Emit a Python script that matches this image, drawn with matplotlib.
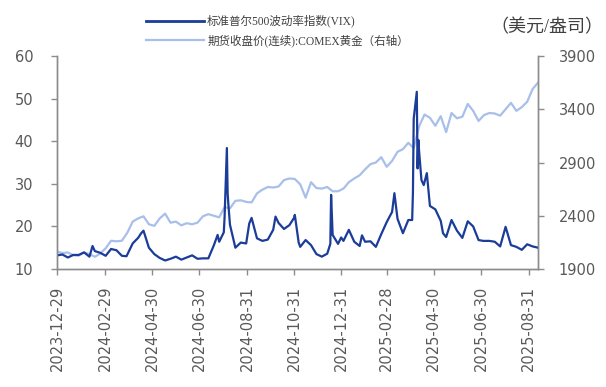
import matplotlib
matplotlib.use("Agg")
import matplotlib.pyplot as plt
import matplotlib.dates as mdates
from matplotlib.lines import Line2D
import pandas as pd

plt.rcParams['font.family'] = ['DejaVu Sans', 'Noto Sans CJK SC']

# VIX daily closes (sampled, denser around the spikes)
vix_dates = [
    "2023-12-29", "2024-01-05", "2024-01-12", "2024-01-19", "2024-01-26",
    "2024-02-02", "2024-02-09", "2024-02-13", "2024-02-16", "2024-02-23",
    "2024-03-01", "2024-03-08", "2024-03-15", "2024-03-22", "2024-03-28",
    "2024-04-05", "2024-04-12", "2024-04-16", "2024-04-19", "2024-04-26",
    "2024-05-03", "2024-05-10", "2024-05-17", "2024-05-24", "2024-05-31",
    "2024-06-07", "2024-06-14", "2024-06-21", "2024-06-28", "2024-07-05",
    "2024-07-12", "2024-07-19", "2024-07-24", "2024-07-26", "2024-08-01",
    "2024-08-02", "2024-08-05", "2024-08-06", "2024-08-07", "2024-08-09",
    "2024-08-16", "2024-08-23", "2024-08-30", "2024-09-03", "2024-09-06",
    "2024-09-13", "2024-09-20", "2024-09-27", "2024-10-04", "2024-10-07",
    "2024-10-11", "2024-10-18", "2024-10-25", "2024-10-31", "2024-11-01",
    "2024-11-06", "2024-11-08", "2024-11-15", "2024-11-22", "2024-11-29",
    "2024-12-06", "2024-12-13", "2024-12-17", "2024-12-18", "2024-12-20",
    "2024-12-27", "2024-12-31", "2025-01-03", "2025-01-10", "2025-01-17",
    "2025-01-24", "2025-01-27", "2025-01-31", "2025-02-07", "2025-02-14",
    "2025-02-21", "2025-02-28", "2025-03-07", "2025-03-10", "2025-03-14",
    "2025-03-21", "2025-03-28", "2025-04-02", "2025-04-03", "2025-04-04",
    "2025-04-08", "2025-04-09", "2025-04-10", "2025-04-11", "2025-04-14",
    "2025-04-17", "2025-04-21", "2025-04-25", "2025-05-02", "2025-05-09",
    "2025-05-12", "2025-05-16", "2025-05-23", "2025-05-30", "2025-06-06",
    "2025-06-13", "2025-06-20", "2025-06-27", "2025-07-03", "2025-07-11",
    "2025-07-18", "2025-07-25", "2025-08-01", "2025-08-08", "2025-08-15",
    "2025-08-22", "2025-08-29", "2025-09-05", "2025-09-12",
]
vix_values = [
    13.2, 13.4, 12.7, 13.3, 13.3,
    13.9, 12.9, 15.4, 14.2, 13.8,
    13.1, 14.7, 14.4, 13.1, 13.0,
    16.0, 17.3, 18.4, 19.0, 15.0,
    13.5, 12.6, 12.0, 12.4, 12.9,
    12.2, 12.7, 13.2, 12.4, 12.5,
    12.5, 15.5, 18.0, 16.4, 18.6,
    22.0, 38.4, 27.7, 25.0, 20.4,
    15.0, 16.2, 16.0, 20.7, 22.0,
    17.2, 16.6, 16.9, 19.2, 22.3,
    20.8, 19.4, 20.3, 22.0, 22.7,
    16.2, 15.2, 16.8, 15.6, 13.5,
    12.9, 13.6, 15.9, 27.4, 18.0,
    15.9, 17.4, 16.6, 19.2, 16.4,
    15.4, 17.9, 16.4, 16.5, 15.2,
    18.2, 21.0, 23.4, 27.8, 21.8,
    18.4, 21.5, 21.5, 28.0, 45.3,
    51.6, 33.6, 40.3, 37.6, 30.9,
    29.7, 32.5, 24.8, 24.0, 21.3,
    18.4, 17.5, 21.5, 19.0, 17.3,
    21.2, 20.0, 16.8, 16.6, 16.6,
    16.4, 15.3, 19.9, 15.6, 15.2,
    14.5, 15.8, 15.3, 15.0,
]

# COMEX gold continuous, weekly (Friday) closes, USD/oz
gold_values = [
    2062, 2050, 2055, 2030, 2025, 2055, 2040, 2015, 2045, 2095,
    2165, 2160, 2165, 2240, 2345, 2375, 2395, 2320, 2305, 2375,
    2420, 2335, 2345, 2310, 2330, 2320, 2335, 2395, 2415, 2400,
    2385, 2480, 2470, 2540, 2545, 2530, 2525, 2610, 2645, 2670,
    2665, 2675, 2735, 2750, 2745, 2695, 2570, 2715, 2660, 2655,
    2670, 2630, 2630, 2655, 2715, 2750, 2780, 2835, 2885, 2900,
    2950, 2860, 2915, 3000, 3025, 3085, 3035, 3240, 3350, 3320,
    3245, 3335, 3185, 3365, 3315, 3330, 3450, 3385, 3290, 3345,
    3365, 3360, 3340, 3400, 3460, 3385, 3420, 3470, 3590, 3650,
]
gold_dates = pd.date_range("2023-12-29", periods=len(gold_values), freq="W-FRI")

tick_dates = ["2023-12-29", "2024-02-29", "2024-04-30", "2024-06-30",
              "2024-08-31", "2024-10-31", "2024-12-31", "2025-02-28",
              "2025-04-30", "2025-06-30", "2025-08-31"]

vix_label = "标准普尔500波动率指数(VIX)"
gold_label = "期货收盘价(连续):COMEX黄金（右轴）"
unit_label = "（美元/盎司）"

dark = "#1b3c98"
light = "#a8bfea"
grey = "#595959"
spine_c = "#8c8c8c"

fig = plt.figure(figsize=(6.06, 3.87), dpi=100)
ax = fig.add_axes([0.0941, 0.3049, 0.7937, 0.5504])
ax2 = ax.twinx()

ax2.plot(gold_dates, gold_values, color=light, lw=1.6)
ax.plot(pd.to_datetime(vix_dates), vix_values, color=dark, lw=1.6)
ax.set_zorder(ax2.get_zorder() + 1)
ax.patch.set_visible(False)

ax.set_xlim(pd.Timestamp("2023-12-29"), pd.Timestamp("2025-09-12"))
ax.set_ylim(10, 60)
ax.set_yticks([10, 20, 30, 40, 50, 60])
ax2.set_ylim(1900, 3900)
ax2.set_yticks([1900, 2400, 2900, 3400, 3900])

ax.set_xticks(pd.to_datetime(tick_dates))
ax.xaxis.set_major_formatter(mdates.DateFormatter("%Y-%m-%d"))
for lbl in ax.get_xticklabels():
    lbl.set_rotation(90)

for a in (ax, ax2):
    a.spines["top"].set_visible(False)
    for s in a.spines.values():
        s.set_color(spine_c)
        s.set_linewidth(1.0)
    a.tick_params(colors=spine_c, labelcolor=grey, labelsize=10.5, length=4, width=1.0)
ax.tick_params(axis="y", pad=13)
ax2.tick_params(axis="y", pad=11)
ax.tick_params(axis="x", pad=8)

handles = [Line2D([], [], color=dark, lw=2.0), Line2D([], [], color=light, lw=1.6)]
fig.legend(handles, [vix_label, gold_label], loc="upper left",
           bbox_to_anchor=(146 / 606, 1 - 15 / 387), frameon=False,
           handlelength=5.0, handletextpad=0.3,
           labelspacing=0.55, borderpad=0, borderaxespad=0,
           prop={"family": ["Liberation Serif", "Noto Sans CJK SC"], "size": 8.3})
for t in fig.legends[0].get_texts():
    t.set_color("#404040")

fig.text(603 / 606, 1 - 28 / 387, unit_label, ha="right", va="center",
         fontsize=13, color="#404040", family=["Liberation Serif", "Noto Sans CJK SC"])

fig.savefig("out.png", dpi=100)
